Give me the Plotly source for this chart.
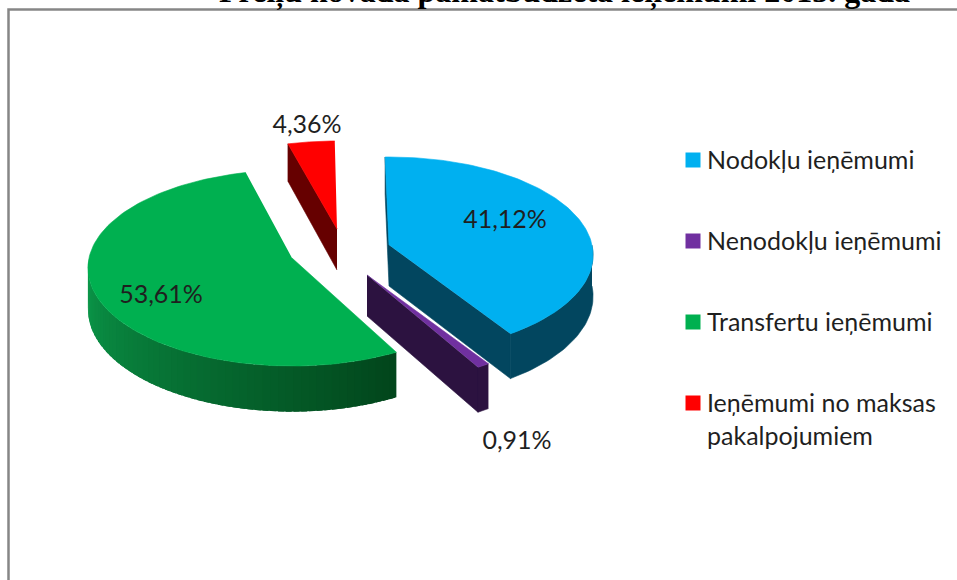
import numpy as np
import plotly.graph_objects as go

# --- data ---
categories = ["Nodokļu ieņēmumi", "Nenodokļu ieņēmumi", "Transfertu ieņēmumi",
              "Ieņēmumi no maksas<br>pakalpojumiem"]
values = [41.12, 0.91, 53.61, 4.36]
title_text = "Preiļu novada pamatbudžeta ieņēmumi 2013. gadā"

# --- styling / geometry ---
top_colors = ["#00B0F0", "#7030A0", "#00B050", "#FF0000"]
side_colors = ["#02465F", "#2C1240", "#02461C", "#660000"]
apex_x = [389, 367, 292, 337]
apex_y = [245, 275, 258, 229]
start_nudge = [0, 0, 2.0, 1.5]
end_nudge = [0, 0, 2.4, 0.5]
label_x = [505, 517, 161, 307]
label_y = [222, 443, 297, 127]
legend_x = [693, 693, 693, 693]
legend_y = [160, 241, 322, 403]
RX, RY, PERSP, DEPTH, ROT = 203.0, 97.0, 0.102, 41.0, -1.2
FONT = "Lato"
TEXT = "#1f1f1f"

shares = np.array(values) / sum(values) * 360.0
stops = ROT + np.concatenate([[0], np.cumsum(shares)])
start = [stops[i] + start_nudge[i] for i in range(4)]
end = [stops[i + 1] + end_nudge[i] for i in range(4)]


def proj(i, deg, depth=False):
    t = np.radians(np.asarray(deg, dtype=float))
    w = 1 + PERSP * np.cos(t)
    x = apex_x[i] + RX * np.sin(t) / w
    y = apex_y[i] - RY * np.cos(t) / w
    return x, (y + DEPTH / w if depth else y)


def poly(name, x, y, color, lw=0.6):
    fig.add_trace(go.Scatter(x=np.round(x, 2), y=np.round(y, 2), mode="lines", fill="toself",
                             fillcolor=color, line=dict(color=color, width=lw),
                             hoverinfo="skip", showlegend=False, name=name))


def top(i):
    x, y = proj(i, np.linspace(start[i], end[i], 120))
    poly(categories[i], np.r_[apex_x[i], x], np.r_[apex_y[i], y], top_colors[i])


def cut(i, deg):
    ex, ey = proj(i, deg)
    bx, by = proj(i, deg, True)
    poly(categories[i], [apex_x[i], ex, bx, apex_x[i]],
         [apex_y[i], ey, by, apex_y[i] + DEPTH], side_colors[i])


def rim(i, a, b, color, lw=0.6):
    d = np.linspace(a, b, 40)
    x1, y1 = proj(i, d)
    x2, y2 = proj(i, d, True)
    poly(categories[i], np.r_[x1, x2[::-1]], np.r_[y1, y2[::-1]], color, lw)


fig = go.Figure()

# red slice (back)
cut(3, start[3])
top(3)

# green slice, with graded outer wall
n = 60
edges = np.linspace(270, start[2], n + 1)
c1, c0 = np.array([0x0C, 0x9C, 0x4C]), np.array([0x02, 0x46, 0x1C])
for k in range(n):
    c = c1 + (c0 - c1) * (k / (n - 1))
    rim(2, edges[k], edges[k + 1] if k == n - 1 else edges[k + 1] - 1.5,
        "rgb(%d,%d,%d)" % tuple(c), 0)
top(2)

# purple slice
cut(1, end[1])
rim(1, start[1], end[1], side_colors[1])
top(1)

# blue slice
cut(0, start[0])
rim(0, 90, end[0], side_colors[0])
cut(0, end[0])
top(0)

# percent labels
fig.add_trace(go.Scatter(x=label_x, y=label_y, mode="text",
                         text=[f"{v:.2f}%".replace(".", ",") for v in values],
                         textfont=dict(family=FONT, size=25, color=TEXT),
                         hoverinfo="skip", showlegend=False))

# legend keys
fig.add_trace(go.Scatter(x=legend_x, y=legend_y, mode="markers", hoverinfo="skip", showlegend=False,
                         marker=dict(symbol="square", size=15, color=top_colors, line=dict(width=0))))

annotations = [dict(text=f"<b>{title_text}</b>", xref="paper", yref="paper",
                    x=564 / 957, y=1.0, xanchor="center", yanchor="bottom",
                    yshift=-12, showarrow=False,
                    font=dict(family="Liberation Serif", size=32, color="black"))]
for name, lx, ly in zip(categories, legend_x, legend_y):
    annotations.append(dict(text=name, xref="x", yref="y", x=lx + 12, y=ly - 18,
                            xanchor="left", yanchor="top", align="left", showarrow=False,
                            font=dict(family=FONT, size=25, color=TEXT)))

fig.update_layout(
    width=957, height=580, autosize=False,
    margin=dict(l=0, r=0, t=0, b=0),
    paper_bgcolor="white", plot_bgcolor="white",
    showlegend=False,
    xaxis=dict(range=[0, 957], visible=False, fixedrange=True),
    yaxis=dict(range=[580, 0], visible=False, fixedrange=True),
    shapes=[dict(type="rect", xref="x", yref="y", x0=8.5, y0=9.5, x1=1000, y1=640,
                 line=dict(color="#868686", width=2.5), layer="below")],
    annotations=annotations,
)

fig.write_html("out.html", config=dict(displayModeBar=False),
               post_script="document.body.style.margin='0';document.body.style.overflow='hidden';")
